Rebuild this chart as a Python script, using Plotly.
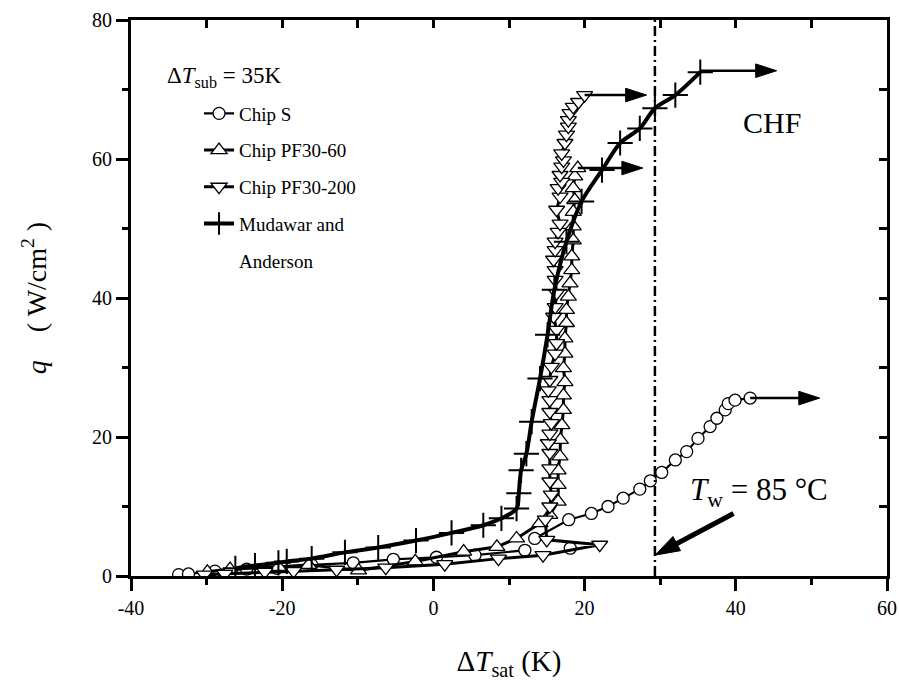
import plotly.graph_objects as go

# ---------------- data ----------------
chip_s_x = [-33.7, -32.4, -28.9, -24.7, -20.7, -16.1, -10.6, -5.3, 0.4, 5.5, 12.1, None, 18.1, None,
            13.4, 17.9, 20.9, 23.1, 25.1, 27.3, 28.7, 30.2, 32.0, 33.5, 35.0, 36.6, 37.5, 38.6, 39.0, 39.9, 41.9]
chip_s_y = [0.2, 0.3, 0.7, 1.0, 1.1, 1.6, 1.9, 2.4, 2.7, 3.0, 3.7, None, 4.0, None,
            5.4, 8.1, 9.0, 10.0, 11.2, 12.5, 13.7, 14.9, 16.7, 17.9, 19.8, 21.5, 22.7, 23.9, 24.8, 25.3, 25.6]

pf60_x = [-29.9, -26.9, -20.5, -16.5, -9.9, -2.4, 4.0, 8.4, 11.0, 14.1, 15.4, 16.5, 16.5, 16.5, 16.75,
          16.8, 17.0, 17.2, 17.2, 17.4, 17.2, 17.4, 17.4, 17.6, 17.6, 17.85, 18.07, 18.3, 18.3, 18.5,
          18.5, 18.5, 18.7, 18.5, 18.7, 19.1]
pf60_y = [0.6, 1.0, 1.3, 1.6, 0.8, 2.1, 3.5, 4.2, 5.4, 7.6, 8.8, 10.7, 13.1, 15.2, 17.2,
          19.6, 21.7, 23.9, 26.0, 27.9, 29.9, 32.0, 34.2, 36.4, 38.3, 40.2, 42.1, 44.0, 46.0, 48.3,
          50.3, 52.4, 54.1, 55.8, 57.5, 58.7]

pf200_x = [-30.3, -27.6, -22.3, -18.5, -12.8, -6.3, 1.5, 8.6, 14.5, 22.0, 15.0, 14.8, 15.4, 15.6,
           15.4, 15.4, 15.4, 15.2, 15.4, 15.6, 15.4, 15.4, 15.2, 15.4, 15.6, 16.1, 16.3, 16.3, 15.9,
           16.1, 16.3, 16.1, 16.1, 15.9, 16.1, 16.1, 16.5, 16.75, 16.3, 16.75, 16.5, 16.97, 16.75,
           16.97, 17.2, 16.97, 17.4, 17.6, 17.85, 17.85, 18.07, 18.5, 19.2, 20.0]
pf200_y = [0.2, 0.3, 0.6, 0.7, 0.9, 1.2, 1.7, 2.5, 3.0, 4.5, 5.2, 8.1, 10.0, 11.7,
           13.6, 15.5, 17.7, 19.1, 20.5, 22.0, 23.6, 25.3, 26.7, 28.2, 30.1, 32.0, 33.5, 35.4, 37.3,
           38.7, 40.7, 42.6, 44.0, 45.5, 46.9, 48.1, 49.5, 50.7, 52.7, 54.6, 55.8, 56.7, 57.7,
           58.9, 59.8, 60.8, 62.3, 63.5, 64.65, 65.6, 66.6, 67.5, 68.2, 69.2]

mud_x = [-26.2, -23.6, -20.5, -19.4, -16.1, -11.7, -7.3, -2.3, 2.4, 6.6, 9.0, 11.0, 11.3, 11.6,
         12.3, 13.0, 14.1, 15.1, 16.0, 17.6, 19.6, 22.3, 24.7, 27.3, 29.3, 32.0, 35.3]
mud_y = [1.1, 1.5, 1.9, 2.1, 2.5, 3.4, 4.1, 5.1, 6.2, 7.3, 8.3, 9.7, 11.9, 15.2,
         17.6, 22.2, 28.4, 34.7, 41.2, 48.1, 53.9, 58.4, 62.3, 64.4, 67.3, 69.2, 72.5]

# CHF arrows: start x, end x, y
chf_arrow_x0 = [41.9, 19.1, 20.0, 35.3]
chf_arrow_x1 = [51.1, 27.7, 28.2, 45.4]
chf_arrow_y = [25.6, 58.7, 69.2, 72.7]

tw_line_x = 29.3
tw_arrow_x = [39.7, 29.3]
tw_arrow_y = [9.0, 3.0]

x_tick_vals = [-40, -20, 0, 20, 40, 60]
x_tick_text = ["-40", "-20", "0", "20", "40", "60"]
y_tick_vals = [0, 20, 40, 60, 80]
y_tick_text = ["0", "20", "40", "60", "80"]

SERIF = "Liberation Serif"

fig = go.Figure()

mk_line = dict(color="black", width=1.3)
fig.add_trace(go.Scatter(
    x=chip_s_x, y=chip_s_y, mode="lines+markers", name="Chip S", legendgroup="g1",
    line=dict(color="black", width=2.2), connectgaps=False,
    marker=dict(symbol="circle", size=12, color="white", line=mk_line)))
fig.add_trace(go.Scatter(
    x=pf60_x, y=pf60_y, mode="lines+markers", name="Chip PF30-60", legendgroup="g2",
    line=dict(color="black", width=3),
    marker=dict(symbol="triangle-up", size=14, color="white", line=mk_line)))
fig.add_trace(go.Scatter(
    x=pf200_x, y=pf200_y, mode="lines+markers", name="Chip PF30-200", legendgroup="g3",
    line=dict(color="black", width=3),
    marker=dict(symbol="triangle-down", size=14, color="white", line=mk_line)))
fig.add_trace(go.Scatter(
    x=mud_x, y=mud_y, mode="lines+markers", name="Mudawar and", legendgroup="g4",
    line=dict(color="black", width=4, shape="spline", smoothing=0.9),
    marker=dict(symbol="cross-thin", size=18, color="black", line=dict(color="black", width=2))))
# second line of the last legend entry
fig.add_trace(go.Scatter(x=[None], y=[None], mode="lines", name="Anderson", legendgroup="g5",
                         line=dict(color="white", width=0), hoverinfo="skip"))

# dummy trace for the mirrored (inside-tick) top/right axes
fig.add_trace(go.Scatter(x=[None], y=[None], xaxis="x2", yaxis="y2",
                         showlegend=False, hoverinfo="skip"))

# CHF arrows
for x0, x1, y in zip(chf_arrow_x0, chf_arrow_x1, chf_arrow_y):
    fig.add_trace(go.Scatter(
        x=[x0, x1], y=[y, y], mode="lines+markers", showlegend=False, hoverinfo="skip",
        line=dict(color="black", width=2.5),
        marker=dict(symbol="arrow", size=[0, 22], angleref="previous", color="black", opacity=1,
                    line=dict(width=1, color="black"))))

# Tw arrow
fig.add_trace(go.Scatter(
    x=tw_arrow_x, y=tw_arrow_y, mode="lines+markers", showlegend=False, hoverinfo="skip",
    line=dict(color="black", width=5),
    marker=dict(symbol="arrow", size=[0, 26], angleref="previous", color="black", opacity=1,
                line=dict(width=1, color="black"))))

# dash-dot vertical line
fig.add_shape(type="line", x0=tw_line_x, x1=tw_line_x, y0=0, y1=1, xref="x", yref="paper",
              line=dict(color="black", width=2.5, dash="10px,4px,2px,4px"))

# text labels
fig.add_annotation(x=0.045, y=0.897, xref="paper", yref="paper", xanchor="left", yanchor="middle",
                   text="Δ<i>T</i><sub>sub</sub> = 35K", showarrow=False,
                   font=dict(family=SERIF, size=23, color="black"))
fig.add_annotation(x=0.848, y=0.815, xref="paper", yref="paper", xanchor="center", yanchor="middle",
                   text="CHF", showarrow=False, font=dict(family=SERIF, size=30, color="black"))
fig.add_annotation(x=0.831, y=0.151, xref="paper", yref="paper", xanchor="center", yanchor="middle",
                   text="<i>T</i><sub>w</sub> = 85 °C", showarrow=False,
                   font=dict(family=SERIF, size=31, color="black"))

axis_common = dict(showgrid=False, zeroline=False, showline=True, linecolor="black", linewidth=3,
                   tickcolor="black", automargin=False)

fig.update_layout(
    width=899, height=683,
    margin=dict(l=131, r=12, t=20, b=107),
    paper_bgcolor="white", plot_bgcolor="white",
    font=dict(family=SERIF, color="black", size=17),
    xaxis=dict(range=[-40, 60], tickmode="array", tickvals=x_tick_vals, ticktext=x_tick_text,
               ticks="outside", ticklen=12, tickwidth=3,
               minor=dict(ticks="outside", dtick=10, tick0=0, ticklen=6, tickwidth=3, tickcolor="black"),
               tickfont=dict(family=SERIF, size=20),
               title=dict(text="Δ<i>T</i><sub>sat</sub> (K)", font=dict(family=SERIF, size=29), standoff=33),
               **axis_common),
    yaxis=dict(range=[0, 80], tickmode="array", tickvals=y_tick_vals, ticktext=y_tick_text,
               ticks="outside", ticklen=12, tickwidth=3,
               minor=dict(ticks="outside", dtick=10, tick0=0, ticklen=6, tickwidth=3, tickcolor="black"),
               tickfont=dict(family=SERIF, size=20),
               title=dict(text="<i>q</i>\u00a0\u00a0\u00a0\u00a0( W/cm<sup>2</sup> )", font=dict(family=SERIF, size=28),
                          standoff=38),
               **axis_common),
    xaxis2=dict(range=[-40, 60], overlaying="x", side="top", anchor="y2", dtick=10, tick0=0,
                ticks="inside", ticklen=8, tickwidth=3, showticklabels=False, **axis_common),
    yaxis2=dict(range=[0, 80], overlaying="y", side="right", anchor="x2", dtick=10, tick0=0,
                ticks="inside", ticklen=8, tickwidth=3, showticklabels=False, **axis_common),
    legend=dict(x=0.09, y=0.866, xanchor="left", yanchor="top", bgcolor="rgba(0,0,0,0)",
                font=dict(family=SERIF, size=19), tracegroupgap=9, itemsizing="trace"),
    showlegend=True,
)

fig.write_html("out.html", config={"displayModeBar": False},
               post_script="document.body.style.margin='0';")
